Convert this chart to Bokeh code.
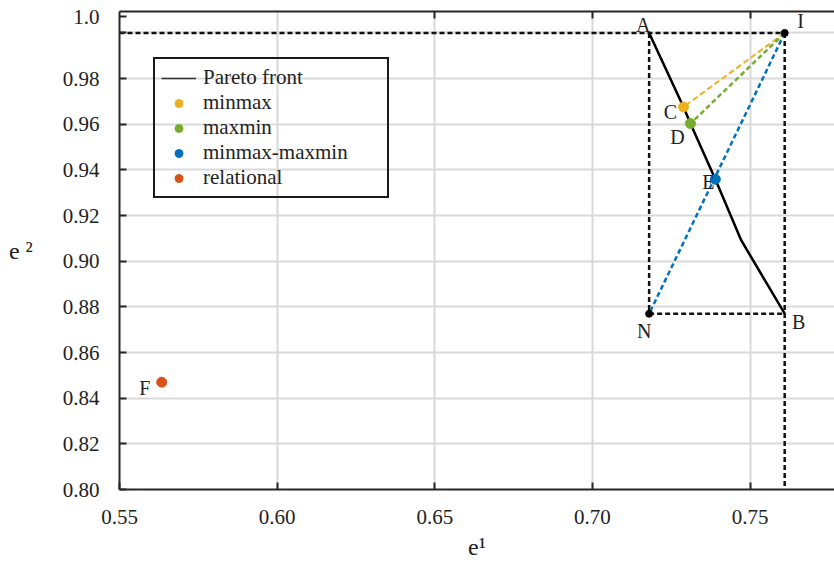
from bokeh.plotting import figure
from bokeh.models import (LinearAxis, FixedTicker, Range1d, Legend, LegendItem,
                          ColumnDataSource)
from bokeh.core.properties import value
from bokeh.embed import file_html
from bokeh.resources import INLINE

# ---------------- data ----------------
pareto_e1 = [0.718, 0.7289, 0.7311, 0.739, 0.7472, 0.761]
pareto_e2 = [1.000, 0.9676, 0.9603, 0.9359, 0.9092, 0.877]

point_names = ["A", "I", "C", "D", "E", "N", "B", "F"]
point_e1 = [0.718, 0.761, 0.7289, 0.7311, 0.739, 0.718, 0.761, 0.5634]
point_e2 = [1.000, 1.000, 0.9676, 0.9603, 0.9359, 0.877, 0.877, 0.847]

series_names = ["minmax", "maxmin", "minmax-maxmin", "relational"]
series_points = ["C", "D", "E", "F"]
series_colors = ["#EDB120", "#77AC30", "#0072BD", "#D95319"]

x_ticks = [0.55, 0.60, 0.65, 0.70, 0.75]
x_tick_labels = ["0.55", "0.60", "0.65", "0.70", "0.75"]
y_ticks = [0.80, 0.82, 0.84, 0.86, 0.88, 0.90, 0.92, 0.94, 0.96, 0.98, 1.00, 1.0072]
y_tick_labels = ["0.80", "0.82", "0.84", "0.86", "0.88", "0.90", "0.92", "0.94",
                 "0.96", "0.98", "", "1.0"]
grid_y = [0.82, 0.84, 0.86, 0.88, 0.90, 0.92, 0.94, 0.96, 0.98, 1.00]
grid_x = [0.60, 0.65, 0.70, 0.75]
top_ticks = [0.65, 0.70, 0.75]

# label offsets (pixels, style only)
label_dx = [-6, 16, -13, -13, -7, -5, 14, -17]
label_dy = [-8, -12, 5, 13, 3, 17, 8, 6]

pt = dict(zip(point_names, zip(point_e1, point_e2)))

FONT = "Liberation Serif"
W, H = 834, 564
BL, BR, BT, BB = 119, 0, 11, 75
x0, x1 = 0.55, 0.7768
y0, y1 = 0.80, 1.0094

p = figure(width=W, height=H, output_backend="svg", toolbar_location=None,
           x_range=Range1d(x0, x1), y_range=Range1d(y0, y1),
           min_border_left=BL, min_border_right=BR, min_border_top=BT,
           min_border_bottom=BB, background_fill_color="white",
           border_fill_color="white", outline_line_color=None)

AX = "#262626"
for ax in (p.xaxis[0], p.yaxis[0]):
    ax.axis_line_color = AX
    ax.axis_line_width = 2
    ax.major_tick_line_color = AX
    ax.major_tick_line_width = 2
    ax.major_tick_in = 7
    ax.major_tick_out = 0
    ax.minor_tick_line_color = None
    ax.major_label_text_font = FONT
    ax.major_label_text_font_size = "21px"
    ax.major_label_text_color = "#222222"
    ax.axis_label_text_font = FONT
    ax.axis_label_text_font_size = "24px"
    ax.axis_label_text_font_style = "normal"
    ax.axis_label_text_color = "#222222"

p.xaxis.ticker = FixedTicker(ticks=x_ticks)
p.xaxis.major_label_overrides = dict(zip(x_ticks, x_tick_labels))
p.xaxis.major_label_standoff = 20
p.xaxis.axis_label = "e¹"
p.xaxis.axis_label_standoff = 7

p.yaxis.ticker = FixedTicker(ticks=y_ticks)
p.yaxis.major_label_overrides = dict(zip(y_ticks, y_tick_labels))
p.yaxis.major_label_standoff = 20
p.yaxis.axis_label = "e ²"
p.yaxis.axis_label_standoff = 27
try:
    p.yaxis.axis_label_orientation = "horizontal"
except Exception:
    pass

top = LinearAxis(ticker=FixedTicker(ticks=top_ticks),
                 axis_line_color=AX, axis_line_width=2,
                 major_tick_line_color=AX, major_tick_line_width=2,
                 major_tick_in=7, major_tick_out=0, minor_tick_line_color=None,
                 major_label_overrides={t: "" for t in top_ticks},
                 major_label_text_font_size="1px", major_label_standoff=0)
p.add_layout(top, "above")

p.xgrid.ticker = FixedTicker(ticks=grid_x)
p.ygrid.ticker = FixedTicker(ticks=grid_y)
for g in (p.xgrid[0], p.ygrid[0]):
    g.grid_line_color = "#d9d9d9"
    g.grid_line_width = 2

# black dashed construction lines
A, I, N, B = pt["A"], pt["I"], pt["N"], pt["B"]
dash_k = dict(line_color="#111111", line_width=2.5, line_dash="5 3")
p.line([x0, I[0]], [I[1], I[1]], **dash_k)
p.line([A[0], N[0]], [A[1], N[1]], **dash_k)
p.line([N[0], B[0]], [N[1], B[1]], **dash_k)
p.line([I[0], I[0]], [I[1], y0], **dash_k)

# coloured dashed lines from I
p.line([I[0], pt["C"][0]], [I[1], pt["C"][1]], line_color=series_colors[0], line_width=2, line_dash="6 3")
p.line([I[0], pt["D"][0]], [I[1], pt["D"][1]], line_color=series_colors[1], line_width=2.5, line_dash="5 3")
p.line([I[0], N[0]], [I[1], N[1]], line_color=series_colors[2], line_width=2.5, line_dash="5 3")

# thin copy (used for the legend entry), hidden under the main front line
pareto_legend = p.line(pareto_e1, pareto_e2, line_color="#333333", line_width=1.5)
p.line(pareto_e1, pareto_e2, line_color="black", line_width=2.5)

series_r = []
for name, key, col in zip(series_names, series_points, series_colors):
    r = p.scatter([pt[key][0]], [pt[key][1]], size=10, fill_color=col,
                  line_color=col, marker="circle")
    series_r.append(r)

p.scatter([I[0], N[0]], [I[1], N[1]], size=7, fill_color="black",
          line_color="black", marker="circle")

src = ColumnDataSource(dict(x=point_e1, y=point_e2, t=point_names,
                            dx=label_dx, dy=label_dy))
p.text(x="x", y="y", text="t", x_offset="dx", y_offset="dy", source=src,
       text_font=value(FONT), text_font_size="20px", text_color="#222222",
       text_align="center", text_baseline="middle")

items = [LegendItem(label="Pareto front", renderers=[pareto_legend])]
for name, r in zip(series_names, series_r):
    items.append(LegendItem(label=name, renderers=[r]))
leg = Legend(items=items, location=(34, 291), label_text_font=FONT,
             label_text_font_size="21px", label_text_color="#222222",
             glyph_width=35, glyph_height=20, label_height=20,
             label_standoff=7, label_width=178, spacing=0, padding=6,
             margin=0, border_line_color="#1a1a1a", border_line_width=2,
             border_line_alpha=1.0, background_fill_alpha=0)
p.add_layout(leg, "center")

open("out.html", "w").write(file_html(p, INLINE))
